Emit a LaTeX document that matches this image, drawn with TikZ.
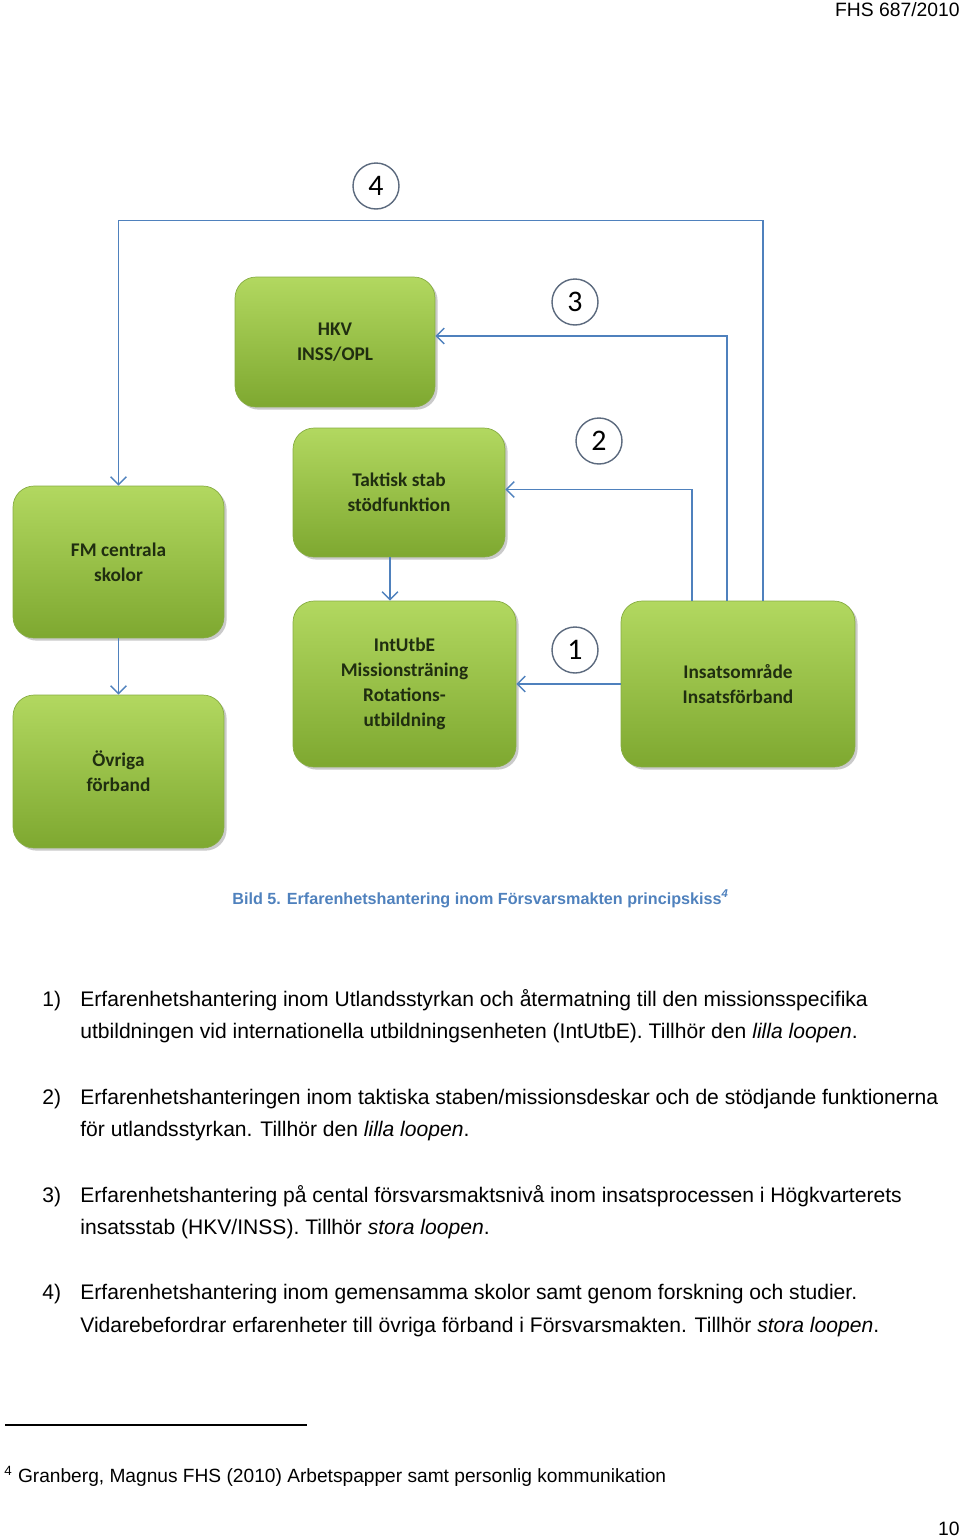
\documentclass[tikz,border=0pt]{standalone}
\usepackage{fontspec}
\setmainfont{Liberation Sans}
\newfontfamily\boxfont{Carlito}
\usetikzlibrary{positioning,shadows,calc,arrows.meta}

\definecolor{loopblue}{RGB}{79,129,189}
\definecolor{boxtop}{RGB}{178,216,96}
\definecolor{boxmid}{RGB}{152,194,68}
\definecolor{boxbottom}{RGB}{126,168,48}
\definecolor{boxedge}{RGB}{134,172,66}
\definecolor{boxtext}{RGB}{32,46,16}
\definecolor{ringgray}{RGB}{92,106,126}

\tikzset{
  unit/.style={rectangle, rounded corners=12pt, draw=boxedge, line width=0.4pt,
    top color=boxtop, middle color=boxmid, bottom color=boxbottom,
    drop shadow={shadow xshift=1.5pt, shadow yshift=-1.5pt, opacity=0.35, fill=black!60},
    align=center, text=boxtext,
    font=\boxfont\bfseries\fontsize{11}{14.2}\selectfont},
  ring/.style={circle, draw=ringgray, fill=white, line width=0.8pt,
    minimum size=0.92cm, inner sep=0pt, font=\boxfont\fontsize{17}{17}\selectfont},
  flow/.style={draw=loopblue, line width=0.85pt,
    -{Straight Barb[length=4.5pt,width=9pt]}},
  bodyline/.style={anchor=base west, inner sep=0pt, font=\fontsize{12}{14}\selectfont},
}

\begin{document}
\begin{tikzpicture}[x=0.02cm, y=-0.02cm]
\useasboundingbox (0,0) rectangle (960,1539);

% page header
\node [anchor=base east, inner sep=0pt, font=\fontsize{11}{13}\selectfont] (header) at (960,16) {FHS 687/2010};

% units
\node [unit, minimum width=4cm, minimum height=2.6cm] (hkv) at (335,342) {HKV\\INSS/OPL};
\node [unit, minimum width=4.24cm, minimum height=2.58cm] (taktisk) at (399,492.5) {Taktisk stab\\stödfunktion};
\node [unit, minimum width=4.22cm, minimum height=3.04cm] (fm) at (118.5,562) {FM centrala\\skolor};
\node [unit, minimum width=4.22cm, minimum height=3.06cm] (ovriga) at (118.5,771.5) {Övriga\\förband};
\node [unit, minimum width=4.46cm, minimum height=3.32cm] (intutbe) at (404.5,684) {IntUtbE\\Missionsträning\\Rotations-\\utbildning};
\node [unit, minimum width=4.68cm, minimum height=3.32cm] (insats) at (738,684) {Insatsområde\\Insatsförband};

% loop numbers
\node [ring] (n4) at (376,186) {4};
\node [ring] (n3) at (575,302) {3};
\node [ring] (n2) at (599,441) {2};
\node [ring] (n1) at (575,650) {1};

% loops
\draw [flow] ($(insats.north)+(25,0)$) -- ++(0,-380) -| (fm.north);
\draw [flow] ($(insats.north)+(-11,0)$) |- ($(hkv.east)+(0,-6)$);
\draw [flow] ($(insats.north)+(-46,0)$) |- ($(taktisk.east)+(0,-3)$);
\draw [flow] (insats.west) -- (intutbe.east);
\draw [flow] ($(taktisk.south)+(-9,0)$) -- ($(intutbe.north)+(-14.5,0)$);
\draw [flow] (fm.south) -- (ovriga.north);

% caption
\node [anchor=base west, inner sep=0pt, text=loopblue, font=\bfseries\fontsize{9.2}{11}\selectfont] (caption) at (232,904)
  {Bild 5. Erfarenhetshantering inom Försvarsmakten principskiss\textsuperscript{\itshape 4}};

% list
\node [bodyline] (i1) at (42,1006) {1)};
\node [bodyline] (t1a) at (80,1006) {Erfarenhetshantering inom Utlandsstyrkan och återmatning till den missionsspecifika};
\node [bodyline] (t1b) at (80,1038) {utbildningen vid internationella utbildningsenheten (IntUtbE). Tillhör den \textit{lilla loopen}.};
\node [bodyline] (i2) at (42,1104) {2)};
\node [bodyline] (t2a) at (80,1104) {Erfarenhetshanteringen inom taktiska staben/missionsdeskar och de stödjande funktionerna};
\node [bodyline] (t2b) at (80,1136) {för utlandsstyrkan. Tillhör den \textit{lilla loopen}.};
\node [bodyline] (i3) at (42,1202) {3)};
\node [bodyline] (t3a) at (80,1202) {Erfarenhetshantering på cental försvarsmaktsnivå inom insatsprocessen i Högkvarterets};
\node [bodyline] (t3b) at (80,1234) {insatsstab (HKV/INSS). Tillhör \textit{stora loopen}.};
\node [bodyline] (i4) at (42,1299) {4)};
\node [bodyline] (t4a) at (80,1299) {Erfarenhetshantering inom gemensamma skolor samt genom forskning och studier.};
\node [bodyline] (t4b) at (80,1332) {Vidarebefordrar erfarenheter till övriga förband i Försvarsmakten. Tillhör \textit{stora loopen}.};

% footnote
\coordinate (rulestart) at (5,1425);
\coordinate (ruleend) at (307,1425);
\draw [line width=0.6pt] (rulestart) -- (ruleend);
\node [anchor=base west, inner sep=0pt, font=\fontsize{10.9}{12}\selectfont] (fnote) at (4,1482)
  {\textsuperscript{4} Granberg, Magnus FHS (2010) Arbetspapper samt personlig kommunikation};

% page number
\node [anchor=base east, inner sep=0pt, font=\fontsize{11}{13}\selectfont] (pageno) at (960,1535) {10};
\end{tikzpicture}
\end{document}
